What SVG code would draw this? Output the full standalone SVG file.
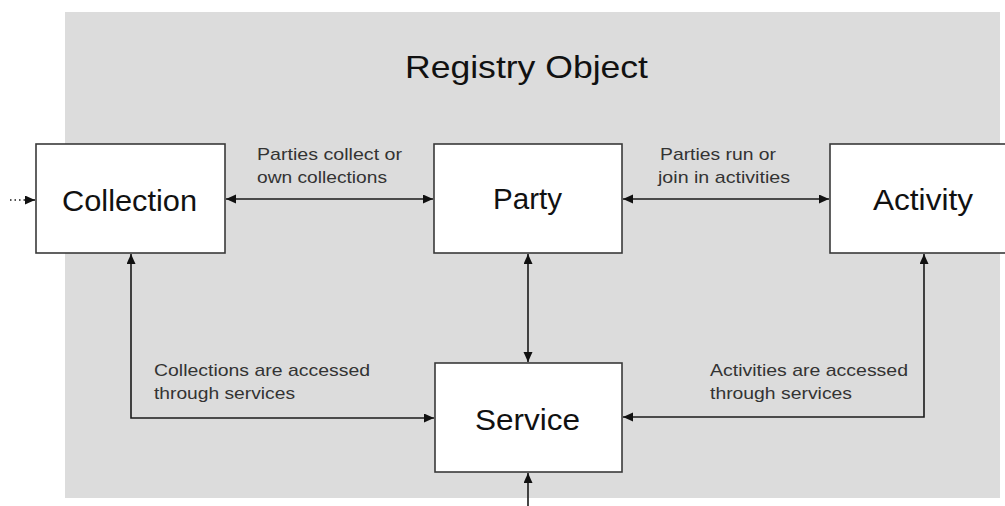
<svg xmlns="http://www.w3.org/2000/svg" width="1005" height="506" viewBox="0 0 1005 506">
  <style>
    .bg { fill: #dcdcdc; }
    .box { fill: #ffffff; stroke: #3a3a3a; stroke-width: 1.6; }
    .node-label { font-family: "Liberation Sans", Arial, sans-serif; font-size: 29px; fill: #111; text-anchor: middle; }
    .title { font-family: "Liberation Sans", Arial, sans-serif; font-size: 32px; fill: #111; text-anchor: middle; }
    .edge-label { font-family: "Liberation Sans", Arial, sans-serif; font-size: 17px; fill: #333; }
    .conn { fill: none; stroke: #1a1a1a; stroke-width: 1.6; }
    .dotted { stroke-dasharray: 1.5 3; }
  </style>
  <defs>
    <marker id="arrow" markerUnits="userSpaceOnUse" markerWidth="11" markerHeight="10" refX="10" refY="4.5" orient="auto-start-reverse">
      <path d="M0,0 L10,4.5 L0,9 z" fill="#111"/>
    </marker>
  </defs>

  <rect width="1005" height="506" fill="#ffffff"/>
  <rect class="bg" x="65" y="12" width="935" height="486"/>
  <text class="title" x="526.5" y="78" textLength="243" lengthAdjust="spacingAndGlyphs">Registry Object</text>

  <g id="connectors">
    <path class="conn" d="M226,199 H433" marker-start="url(#arrow)" marker-end="url(#arrow)"/>
    <path class="conn" d="M623,199 H829" marker-start="url(#arrow)" marker-end="url(#arrow)"/>
    <path class="conn" d="M528,254 V362" marker-start="url(#arrow)" marker-end="url(#arrow)"/>
    <path class="conn" d="M131,254 V418 H434" marker-start="url(#arrow)" marker-end="url(#arrow)"/>
    <path class="conn" d="M924,254 V417 H623" marker-start="url(#arrow)" marker-end="url(#arrow)"/>
    <path class="conn dotted" d="M10,200 H26"/>
    <path class="conn" d="M26,200 H35" marker-end="url(#arrow)"/>
    <path class="conn" d="M528,506 V473" marker-end="url(#arrow)"/>
    <text class="edge-label" x="257" y="160" textLength="145" lengthAdjust="spacingAndGlyphs">Parties collect or</text>
    <text class="edge-label" x="257" y="183" textLength="130" lengthAdjust="spacingAndGlyphs">own collections</text>
    <text class="edge-label" x="660" y="160" textLength="116" lengthAdjust="spacingAndGlyphs">Parties run or</text>
    <text class="edge-label" x="658" y="183" textLength="132" lengthAdjust="spacingAndGlyphs">join in activities</text>
    <text class="edge-label" x="154" y="376" textLength="216" lengthAdjust="spacingAndGlyphs">Collections are accessed</text>
    <text class="edge-label" x="154" y="399" textLength="141" lengthAdjust="spacingAndGlyphs">through services</text>
    <text class="edge-label" x="710" y="376" textLength="198" lengthAdjust="spacingAndGlyphs">Activities are accessed</text>
    <text class="edge-label" x="710" y="399" textLength="142" lengthAdjust="spacingAndGlyphs">through services</text>
  </g>

  <g id="node-collection">
    <rect class="box" x="36" y="144" width="189" height="109"/>
    <text class="node-label" x="129.5" y="211" textLength="135" lengthAdjust="spacingAndGlyphs">Collection</text>
  </g>
  <g id="node-party">
    <rect class="box" x="434" y="144" width="188" height="109"/>
    <text class="node-label" x="527.5" y="209" textLength="69" lengthAdjust="spacingAndGlyphs">Party</text>
  </g>
  <g id="node-activity">
    <rect class="box" x="830" y="144" width="185" height="109"/>
    <text class="node-label" x="923" y="210" textLength="100" lengthAdjust="spacingAndGlyphs">Activity</text>
  </g>
  <g id="node-service">
    <rect class="box" x="435" y="363" width="187" height="109"/>
    <text class="node-label" x="527.5" y="430" textLength="105" lengthAdjust="spacingAndGlyphs">Service</text>
  </g>
</svg>
